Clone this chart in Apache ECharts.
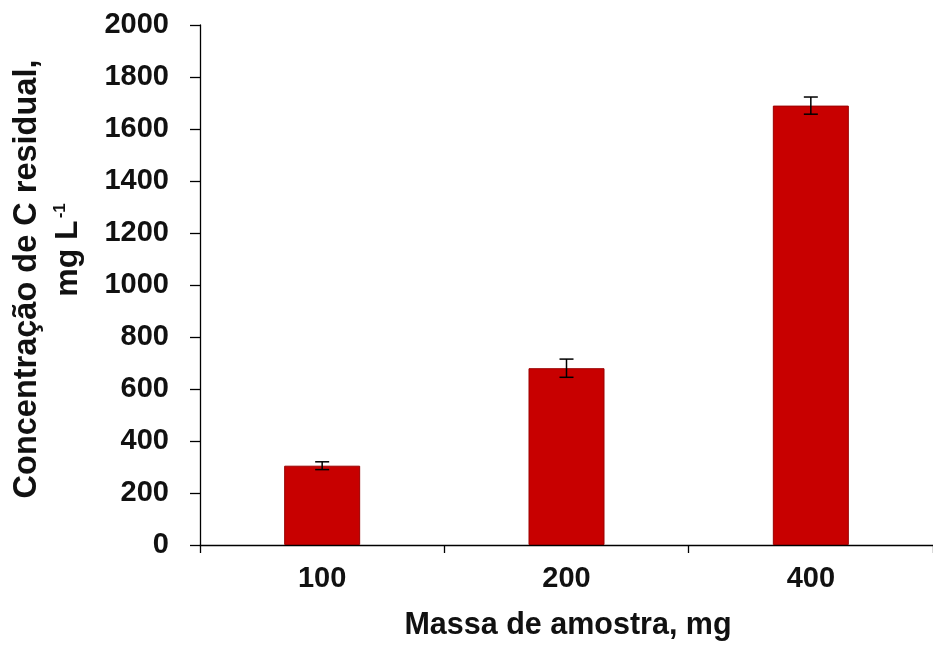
<!DOCTYPE html>
<html>
<head>
<meta charset="utf-8">
<script src="https://cdn.jsdelivr.net/npm/echarts@6/dist/echarts.min.js"></script>
<style>
  html, body { margin: 0; padding: 0; background: #ffffff; }
  #chart { width: 933px; height: 646px; }
</style>
</head>
<body>
<div id="chart"></div>
<script>
// Sample mass (mg) and residual carbon concentration (mg L-1)
const categories = ['100', '200', '400'];
const concentration = [305, 680, 1690];
const stdError = [15, 35, 33];
const yTicks = [0, 200, 400, 600, 800, 1000, 1200, 1400, 1600, 1800, 2000];

const FONT = '"Liberation Sans", Arial, sans-serif';
const chart = echarts.init(document.getElementById('chart'), null, { renderer: 'canvas' });

const errorData = categories.map((c, i) => [i, concentration[i] - stdError[i], concentration[i] + stdError[i]]);

chart.setOption({
  animation: false,
  backgroundColor: '#ffffff',
  grid: { left: 200, top: 25, width: 739, height: 520, containLabel: false },
  xAxis: {
    type: 'category',
    data: categories,
    axisLine: { show: true, lineStyle: { color: '#000', width: 1.3 } },
    axisTick: { show: true, length: 8, inside: false, alignWithLabel: false, lineStyle: { color: '#000', width: 1.3 } },
    axisLabel: { color: '#111', fontFamily: FONT, fontWeight: 'bold', fontSize: 29, margin: 19 },
    splitLine: { show: false }
  },
  yAxis: {
    type: 'value',
    min: yTicks[0],
    max: yTicks[yTicks.length - 1],
    interval: 200,
    axisLine: { show: true, lineStyle: { color: '#000', width: 1.3 } },
    axisTick: { show: true, length: 10, inside: false, lineStyle: { color: '#000', width: 1.3 } },
    axisLabel: {
      color: '#111', fontFamily: FONT, fontWeight: 'bold', fontSize: 29, margin: 31,
      formatter: function (v) { return String(v); }
    },
    splitLine: { show: false }
  },
  series: [
    {
      type: 'bar',
      data: concentration,
      barWidth: 76,
      itemStyle: { color: '#c80000', borderColor: '#9a0000', borderWidth: 1 },
      z: 2
    },
    {
      type: 'custom',
      data: errorData,
      z: 3,
      renderItem: function (params, api) {
        const x = api.value(0);
        const lo = api.coord([x, api.value(1)]);
        const hi = api.coord([x, api.value(2)]);
        const half = 7;
        const style = { stroke: '#000', lineWidth: 1.5 };
        return {
          type: 'group',
          children: [
            { type: 'line', shape: { x1: hi[0], y1: hi[1], x2: lo[0], y2: lo[1] }, style: style },
            { type: 'line', shape: { x1: hi[0] - half, y1: hi[1], x2: hi[0] + half, y2: hi[1] }, style: style },
            { type: 'line', shape: { x1: lo[0] - half, y1: lo[1], x2: lo[0] + half, y2: lo[1] }, style: style }
          ]
        };
      }
    }
  ],
  graphic: [
    {
      type: 'text',
      x: 568, y: 626,
      style: {
        text: 'Massa de amostra, mg',
        fill: '#111', font: 'bold 30.5px ' + FONT,
        align: 'center', verticalAlign: 'middle'
      }
    },
    {
      type: 'text',
      x: 27, y: 279,
      rotation: Math.PI / 2,
      style: {
        text: 'Concentração de C residual,',
        fill: '#111', font: 'bold 32.5px ' + FONT,
        align: 'center', verticalAlign: 'middle'
      }
    },
    {
      type: 'text',
      x: 68, y: 250,
      rotation: Math.PI / 2,
      style: {
        text: '{b|mg L}{s|-1}',
        align: 'center', verticalAlign: 'middle',
        rich: {
          b: { fill: '#111', font: 'bold 32px ' + FONT, verticalAlign: 'bottom' },
          s: { fill: '#111', font: 'bold 17px ' + FONT, verticalAlign: 'top', padding: [0, 0, 14, 2] }
        }
      }
    }
  ]
});
</script>
</body>
</html>
